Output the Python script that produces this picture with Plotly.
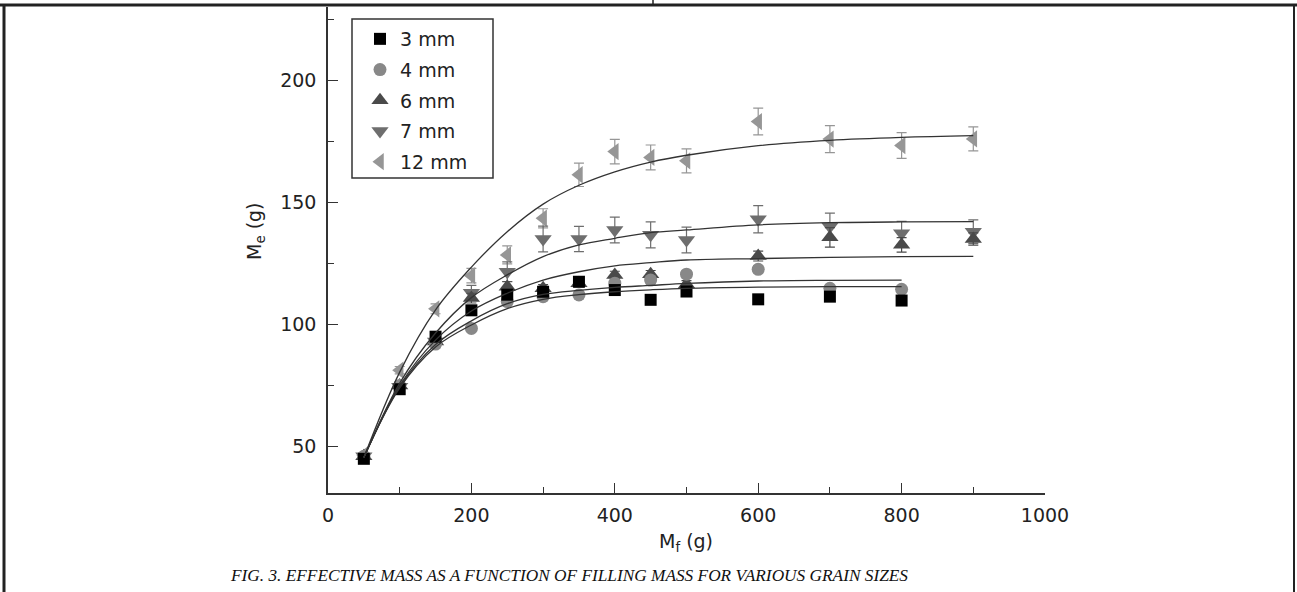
import plotly.graph_objects as go

# ---------------- data ----------------
mf_short = [50, 100, 150, 200, 250, 300, 350, 400, 450, 500, 600, 700, 800]
mf_long = [50, 100, 150, 200, 250, 300, 350, 400, 450, 500, 600, 700, 800, 900]

me_3mm = [45.0, 73.5, 95.0, 105.8, 112.2, 113.4, 117.5, 114.1, 110.1, 113.5, 110.3, 111.4, 109.8]
err_3mm = [1.2, 1.5, 2.0, 1.5, 1.5, 1.5, 1.5, 1.5, 0.5, 1.5, 0.8, 1.2, 1.0]

me_4mm = [46.0, 75.0, 92.0, 98.4, 109.4, 111.4, 112.1, 116.9, 118.2, 120.6, 122.6, 114.8, 114.4]
err_4mm = [1.2, 1.5, 1.5, 1.0, 1.5, 1.5, 1.5, 1.5, 1.5, 1.5, 1.5, 1.0, 1.0]

me_6mm = [46.0, 75.0, 93.0, 110.8, 115.5, 114.8, 116.9, 120.3, 120.6, 116.5, 128.0, 135.7, 132.6, 135.0]
err_6mm = [1.2, 1.5, 1.5, 2.0, 2.0, 1.5, 1.5, 1.5, 1.5, 1.5, 2.0, 4.0, 3.0, 2.5]

me_7mm = [46.0, 74.5, 93.0, 113.0, 121.6, 135.0, 135.0, 138.7, 136.7, 134.6, 143.1, 140.1, 137.4, 138.0]
err_7mm = [1.2, 1.5, 2.0, 3.0, 4.0, 5.3, 5.2, 5.3, 5.3, 5.3, 5.6, 5.5, 4.8, 4.8]

me_12mm = [46.5, 81.3, 106.4, 120.0, 128.5, 143.5, 161.3, 170.8, 168.4, 167.0, 183.1, 175.9, 173.3, 176.0]
err_12mm = [1.0, 1.5, 2.0, 3.0, 3.7, 3.9, 4.8, 5.0, 5.1, 4.9, 5.5, 5.5, 5.3, 4.9]

# fitted curves
fit_3mm = [45.5, 74.0, 90.8, 99.8, 106.5, 110.3, 112.2, 113.4, 114.2, 114.8, 115.3, 115.5, 115.5]
fit_4mm = [45.5, 74.5, 91.8, 101.5, 108.5, 112.3, 114.0, 115.2, 116.0, 116.8, 117.8, 118.1, 118.2]
fit_6mm = [45.5, 75.0, 93.6, 105.5, 112.8, 118.2, 121.6, 124.0, 125.3, 126.4, 127.0, 127.5, 127.8, 127.9]
fit_7mm = [45.5, 76.0, 96.5, 111.0, 120.3, 127.8, 132.6, 135.3, 137.6, 138.7, 140.8, 141.7, 142.0, 142.1]
fit_12mm = [45.5, 80.5, 106.0, 123.5, 138.0, 149.3, 157.0, 162.5, 166.5, 169.3, 173.2, 175.4, 176.6, 177.3]

labels = ["3 mm", "4 mm", "6 mm", "7 mm", "12 mm"]
x_tick_vals = [0, 200, 400, 600, 800, 1000]
y_tick_vals = [50, 100, 150, 200]

# ---------------- geometry helpers ----------------
W, H = 1297, 592
L, R, T, B = 328, 1045, 7, 493


def px2x(px):
    return (px - L) / (R - L)


def py2y(py):
    return (B - py) / (B - T)


FONT = "DejaVu Sans"

series = [
    (labels[0], mf_short, me_3mm, err_3mm, "square", 12, "#000000"),
    (labels[1], mf_short, me_4mm, err_4mm, "circle", 13, "#888888"),
    (labels[2], mf_long, me_6mm, err_6mm, "triangle-up", 15, "#4a4a4a"),
    (labels[3], mf_long, me_7mm, err_7mm, "triangle-down", 15, "#6e6e6e"),
    (labels[4], mf_long, me_12mm, err_12mm, "triangle-left", 15, "#969696"),
]
fits = [(mf_short, fit_3mm), (mf_short, fit_4mm), (mf_long, fit_6mm),
        (mf_long, fit_7mm), (mf_long, fit_12mm)]

fig = go.Figure()
# draw from back to front: 12, 7, 6, 4, 3 ; legend rank keeps 3..12 order
for rank, s in reversed(list(enumerate(series))):
    name, xs, ys, es, sym, size, col = s
    fig.add_trace(go.Scatter(
        x=xs, y=ys, mode="markers", name=name, legendrank=rank + 1,
        legendgroup=name,
        marker=dict(symbol=sym, size=size, color=col, line=dict(width=0)),
        error_y=dict(type="data", array=es, visible=True, color=col,
                     thickness=1.2, width=5),
    ))

for xs, ys in fits:
    fig.add_trace(go.Scatter(
        x=xs, y=ys, mode="lines", showlegend=False, hoverinfo="skip",
        line=dict(color="#333333", width=1.3, shape="spline", smoothing=1.0),
    ))

axis_common = dict(
    showgrid=False, zeroline=False, showline=True, linecolor="#333333",
    linewidth=1.5, ticks="inside", ticklen=10, tickwidth=1.3,
    tickcolor="#333333", tickfont=dict(family=FONT, size=19, color="#222222"),
)

fig.update_xaxes(
    range=[0, 1000], tickmode="array", tickvals=x_tick_vals,
    ticklabelstandoff=4,
    minor=dict(tickvals=[100, 300, 500, 700, 900], ticks="inside",
               ticklen=6, tickwidth=1.3, tickcolor="#333333"),
    **axis_common,
)
fig.update_yaxes(
    range=[31, 230], tickmode="array", tickvals=y_tick_vals,
    ticklabelstandoff=6,
    minor=dict(tickvals=[75, 125, 175, 225], ticks="inside",
               ticklen=6, tickwidth=1.3, tickcolor="#333333"),
    **axis_common,
)

shapes = [
    # outer frame
    dict(type="line", xref="paper", yref="paper", x0=px2x(0), x1=px2x(W),
         y0=py2y(5), y1=py2y(5), line=dict(color="#222222", width=3)),
    dict(type="line", xref="paper", yref="paper", x0=px2x(4), x1=px2x(4),
         y0=py2y(5), y1=py2y(H), line=dict(color="#222222", width=3)),
    dict(type="line", xref="paper", yref="paper", x0=px2x(1294), x1=px2x(1294),
         y0=py2y(5), y1=py2y(H), line=dict(color="#222222", width=2)),
    dict(type="line", xref="paper", yref="paper", x0=px2x(653), x1=px2x(653),
         y0=py2y(0), y1=py2y(5), line=dict(color="#222222", width=1.5)),
    # legend box
    dict(type="rect", xref="paper", yref="paper", x0=px2x(352), x1=px2x(493),
         y0=py2y(178), y1=py2y(19), line=dict(color="#333333", width=1.5),
         fillcolor="rgba(0,0,0,0)"),
]

annotations = [
    dict(text="M<sub>f</sub> (g)", xref="paper", yref="paper",
         x=px2x(686), y=py2y(542), showarrow=False,
         font=dict(family=FONT, size=19, color="#222222"),
         xanchor="center", yanchor="middle"),
    dict(text="M<sub>e</sub> (g)", xref="paper", yref="paper",
         x=px2x(255), y=py2y(231), showarrow=False, textangle=-90,
         font=dict(family=FONT, size=19, color="#222222"),
         xanchor="center", yanchor="middle"),
    dict(text="<i>FIG. 3. EFFECTIVE MASS AS A FUNCTION OF FILLING MASS FOR VARIOUS GRAIN SIZES</i>",
         xref="paper", yref="paper", x=px2x(569), y=py2y(575), showarrow=False,
         font=dict(family="Liberation Serif", size=17.3, color="#111111"),
         xanchor="center", yanchor="middle"),
]

fig.update_layout(
    width=W, height=H,
    margin=dict(l=L, r=W - R, t=T, b=H - B, pad=0),
    paper_bgcolor="white", plot_bgcolor="white",
    showlegend=True,
    legend=dict(x=px2x(360), y=py2y(20), xanchor="left", yanchor="top",
                bgcolor="rgba(0,0,0,0)", borderwidth=0,
                font=dict(family=FONT, size=19, color="#222222"),
                tracegroupgap=3, traceorder="grouped", itemsizing="trace"),
    shapes=shapes, annotations=annotations,
)

fig.write_html(
    "out.html",
    config={"displayModeBar": False},
    post_script="document.body.style.margin='0';document.body.style.overflow='hidden';",
)
